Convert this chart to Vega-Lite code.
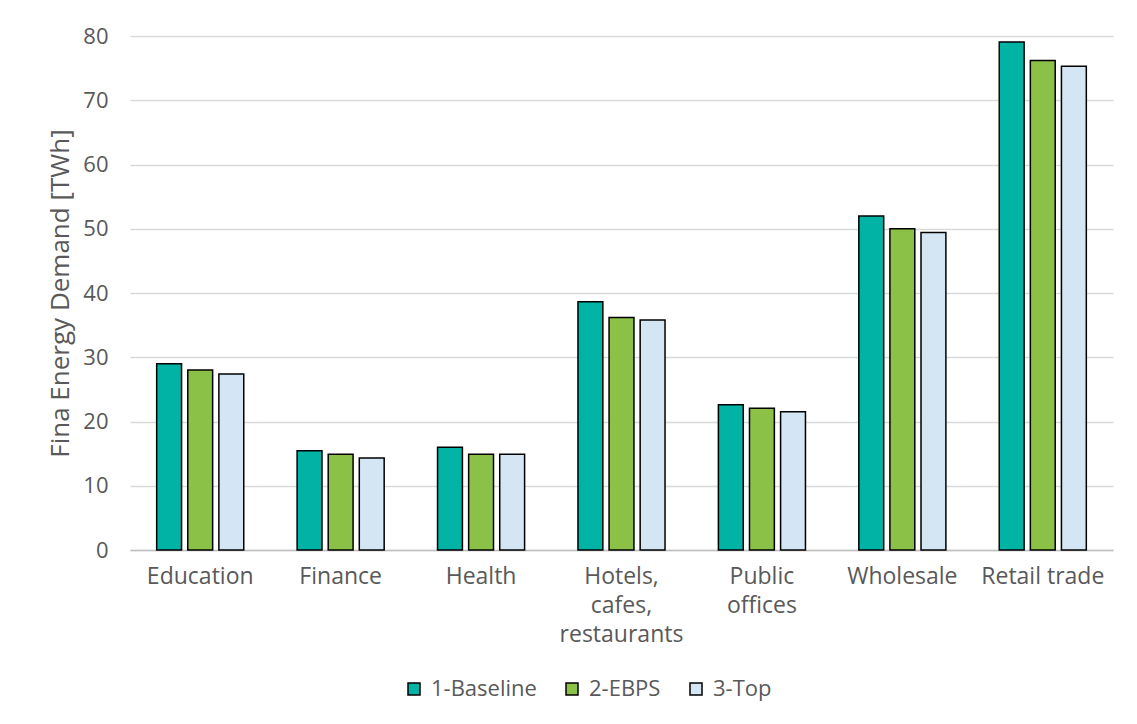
{
  "$schema": "https://vega.github.io/schema/vega-lite/v6.json",
  "width": 983,
  "height": 514,
  "autosize": {"type": "none"},
  "padding": {"left": 130, "top": 36, "right": 24, "bottom": 174},
  "background": "white",
  "config": {
    "font": "Open Sans",
    "view": {"stroke": null},
    "axis": {"labelColor": "#595959", "titleColor": "#595959", "labelFont": "Open Sans", "titleFont": "Open Sans"},
    "legend": {"labelFont": "Open Sans"}
  },
  "data": {
    "values": [
      {"sector": "Education", "scenario": "1-Baseline", "value": 29.0},
      {"sector": "Education", "scenario": "2-EBPS", "value": 28.0},
      {"sector": "Education", "scenario": "3-Top", "value": 27.4},
      {"sector": "Finance", "scenario": "1-Baseline", "value": 15.45},
      {"sector": "Finance", "scenario": "2-EBPS", "value": 14.9},
      {"sector": "Finance", "scenario": "3-Top", "value": 14.3},
      {"sector": "Health", "scenario": "1-Baseline", "value": 16.0},
      {"sector": "Health", "scenario": "2-EBPS", "value": 14.9},
      {"sector": "Health", "scenario": "3-Top", "value": 14.9},
      {"sector": "Hotels, cafes, restaurants", "scenario": "1-Baseline", "value": 38.65},
      {"sector": "Hotels, cafes, restaurants", "scenario": "2-EBPS", "value": 36.2},
      {"sector": "Hotels, cafes, restaurants", "scenario": "3-Top", "value": 35.8},
      {"sector": "Public offices", "scenario": "1-Baseline", "value": 22.6},
      {"sector": "Public offices", "scenario": "2-EBPS", "value": 22.05},
      {"sector": "Public offices", "scenario": "3-Top", "value": 21.5},
      {"sector": "Wholesale", "scenario": "1-Baseline", "value": 52.0},
      {"sector": "Wholesale", "scenario": "2-EBPS", "value": 50.0},
      {"sector": "Wholesale", "scenario": "3-Top", "value": 49.4},
      {"sector": "Retail trade", "scenario": "1-Baseline", "value": 79.07},
      {"sector": "Retail trade", "scenario": "2-EBPS", "value": 76.2},
      {"sector": "Retail trade", "scenario": "3-Top", "value": 75.3}
    ]
  },
  "mark": {"type": "bar", "stroke": "black", "strokeWidth": 1.5},
  "encoding": {
    "x": {
      "field": "sector",
      "type": "nominal",
      "sort": null,
      "scale": {"paddingInner": 0.38, "paddingOuter": 0.19},
      "axis": {
        "title": null,
        "labelAngle": 0,
        "labelFontSize": 23,
        "labelPadding": 15,
        "labelLineHeight": 29,
        "labelBaseline": "top",
        "labelExpr": "datum.value == 'Hotels, cafes, restaurants' ? ['Hotels,', 'cafes,', 'restaurants'] : datum.value == 'Public offices' ? ['Public', 'offices'] : datum.value",
        "ticks": false,
        "domainColor": "#BFBFBF",
        "domainWidth": 1.5,
        "grid": false
      }
    },
    "xOffset": {
      "field": "scenario",
      "type": "nominal",
      "scale": {"paddingInner": 0.2, "paddingOuter": 0}
    },
    "y": {
      "field": "value",
      "type": "quantitative",
      "scale": {"domain": [0, 80]},
      "axis": {
        "title": "Fina Energy Demand [TWh]",
        "titleFontSize": 26,
        "titleFontWeight": "normal",
        "titlePadding": 9,
        "values": [0, 10, 20, 30, 40, 50, 60, 70, 80],
        "labelFontSize": 22,
        "labelPadding": 22,
        "ticks": false,
        "domain": false,
        "gridColor": "#D9D9D9",
        "gridWidth": 1.3
      }
    },
    "color": {
      "field": "scenario",
      "type": "nominal",
      "scale": {"domain": ["1-Baseline", "2-EBPS", "3-Top"], "range": ["#00B3A4", "#8BC146", "#D4E5F3"]},
      "legend": {
        "title": null,
        "orient": "none",
        "legendX": 273,
        "legendY": 642,
        "direction": "horizontal",
        "symbolType": "square",
        "symbolSize": 144,
        "symbolStrokeColor": "black",
        "symbolStrokeWidth": 1.5,
        "labelFontSize": 22,
        "labelColor": "#595959",
        "columnPadding": 24,
        "labelOffset": 6
      }
    }
  }
}
